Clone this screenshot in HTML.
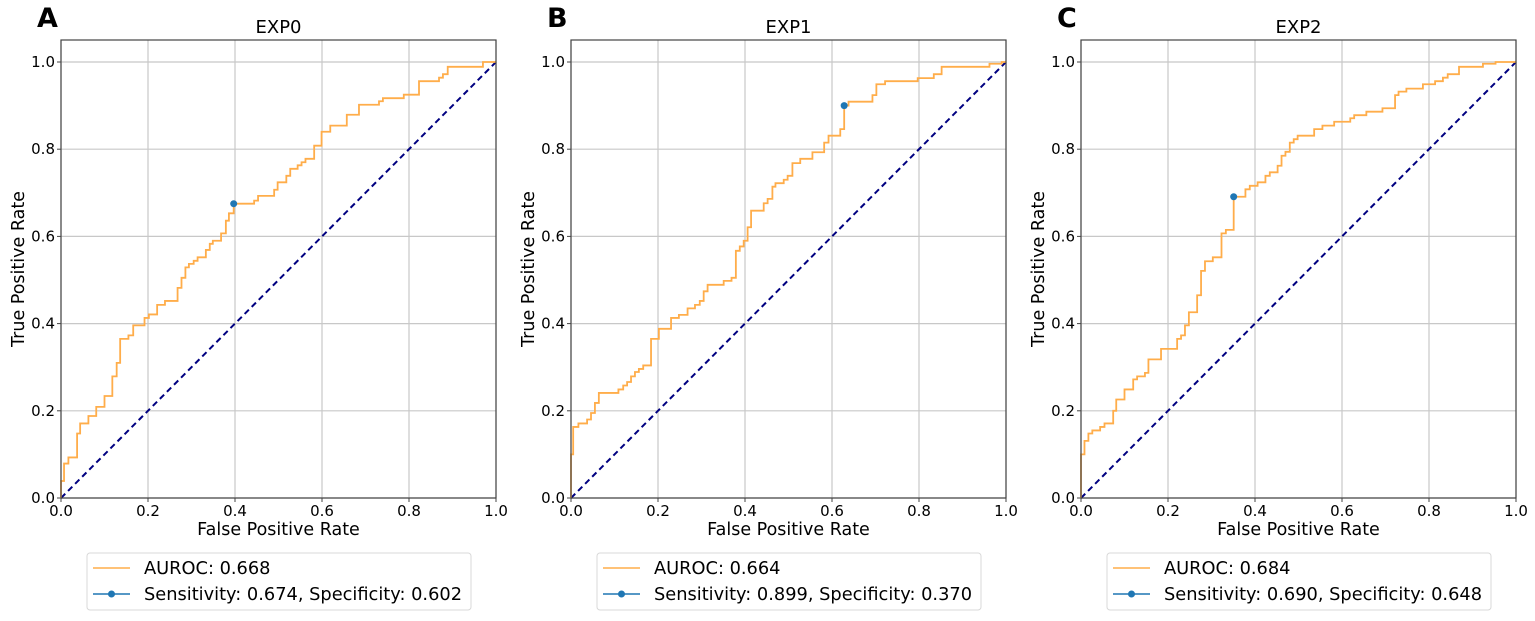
<!DOCTYPE html>
<html><head><meta charset="utf-8"><style>
body{margin:0;background:#fff;}
svg text{font-family:"DejaVu Sans","Liberation Sans",sans-serif;fill:#000;}
</style></head><body>
<svg id="fig" width="1535" height="616" viewBox="0 0 1535 616" xmlns="http://www.w3.org/2000/svg"></svg>
<script>
const titles = ["EXP0","EXP1","EXP2"];
const letters = ["A","B","C"];
const aurocs = ["0.668","0.664","0.684"];
const sensTxt = ["0.674","0.899","0.690"];
const specTxt = ["0.602","0.370","0.648"];
const tickLabels = ["0.0","0.2","0.4","0.6","0.8","1.0"];
const tickValues = [0,0.2,0.4,0.6,0.8,1.0];
const opFpr = [0.397,0.628,0.351];
const opTpr = [0.675,0.900,0.691];
const fpr0 = [0,0,0.007,0.017,0.037,0.044,0.063,0.081,0.1,0.118,0.118,0.128,0.136,0.155,0.166,0.192,0.202,0.221,0.239,0.268,0.277,0.286,0.294,0.305,0.314,0.333,0.342,0.349,0.368,0.379,0.386,0.397,0.444,0.453,0.49,0.498,0.518,0.527,0.544,0.553,0.562,0.582,0.599,0.619,0.657,0.685,0.731,0.74,0.788,0.823,0.869,0.878,0.889,0.97,1.0];
const tpr0 = [0,0.039,0.079,0.093,0.148,0.171,0.188,0.209,0.234,0.241,0.279,0.31,0.365,0.373,0.396,0.413,0.421,0.443,0.452,0.482,0.505,0.529,0.537,0.544,0.552,0.569,0.583,0.59,0.607,0.636,0.653,0.675,0.682,0.693,0.707,0.724,0.739,0.755,0.763,0.77,0.778,0.808,0.84,0.854,0.879,0.902,0.91,0.917,0.925,0.956,0.964,0.972,0.989,1.0,1.0];
const fpr1 = [0,0,0.005,0.017,0.037,0.046,0.055,0.064,0.109,0.12,0.129,0.138,0.147,0.156,0.166,0.184,0.202,0.23,0.248,0.268,0.285,0.296,0.305,0.314,0.351,0.369,0.379,0.388,0.397,0.406,0.414,0.443,0.452,0.463,0.47,0.489,0.498,0.509,0.527,0.555,0.582,0.592,0.619,0.628,0.638,0.693,0.702,0.722,0.797,0.834,0.852,0.962,0.99,1.0];
const tpr1 = [0,0.1,0.163,0.171,0.18,0.195,0.218,0.241,0.249,0.258,0.266,0.279,0.289,0.296,0.304,0.365,0.388,0.413,0.42,0.435,0.443,0.452,0.474,0.489,0.498,0.505,0.567,0.577,0.59,0.621,0.659,0.676,0.686,0.714,0.722,0.73,0.739,0.768,0.778,0.793,0.815,0.831,0.846,0.9,0.909,0.924,0.949,0.956,0.963,0.972,0.989,0.996,1.0,1.0];
const fpr2 = [0,0,0.008,0.017,0.026,0.044,0.054,0.074,0.081,0.1,0.12,0.129,0.147,0.155,0.184,0.221,0.23,0.239,0.248,0.267,0.276,0.285,0.303,0.323,0.333,0.351,0.378,0.388,0.406,0.424,0.434,0.452,0.461,0.47,0.48,0.489,0.498,0.536,0.555,0.582,0.619,0.628,0.656,0.693,0.722,0.73,0.748,0.786,0.814,0.832,0.843,0.869,0.924,0.953,1.0];
const tpr2 = [0,0.1,0.131,0.148,0.155,0.163,0.171,0.2,0.226,0.249,0.272,0.279,0.287,0.318,0.342,0.365,0.373,0.396,0.426,0.465,0.521,0.543,0.552,0.607,0.615,0.691,0.708,0.716,0.724,0.739,0.747,0.762,0.785,0.794,0.815,0.823,0.831,0.846,0.854,0.863,0.871,0.878,0.886,0.894,0.924,0.932,0.939,0.949,0.956,0.964,0.972,0.989,0.996,1.0,1.0];
const fprs=[fpr0,fpr1,fpr2], tprs=[tpr0,tpr1,tpr2];

const NS="http://www.w3.org/2000/svg";
const svg=document.getElementById('fig');
function mk(tag,attrs,parent){const e=document.createElementNS(NS,tag);for(const k in attrs)e.setAttribute(k,attrs[k]);(parent||svg).appendChild(e);return e;}
const W=435,H=436,Y0=498,TOP=40;
for(let p=0;p<3;p++){
  const L=61+p*510;
  const sx=v=>L+v*W, sy=v=>Y0-v*H;
  const g=mk('g',{});
  
  
  tickValues.forEach((v,i)=>{
    const gx=mk('line',{x1:sx(v),x2:sx(v),y1:TOP,y2:Y0,stroke:'#c8c8c8','stroke-width':1.2},g);
    
    
    const gy=mk('line',{x1:L,x2:L+W,y1:sy(v),y2:sy(v),stroke:'#c8c8c8','stroke-width':1.2},g);
    
    
    const tx=mk('text',{x:sx(v),y:516,'font-size':15,'text-anchor':'middle'},g);tx.textContent=tickLabels[i];
    
    
    const ty=mk('text',{x:L-6,y:sy(v)+5,'font-size':15,'text-anchor':'end'},g);ty.textContent=tickLabels[i];
    
    
    mk('line',{x1:L-4,x2:L,y1:sy(v),y2:sy(v),stroke:'#444'},g);
    mk('line',{x1:sx(v),x2:sx(v),y1:Y0,y2:Y0+4,stroke:'#444'},g);
  });
  const d=mk('line',{x1:sx(0),y1:sy(0),x2:sx(1),y2:sy(1),stroke:'#000080','stroke-width':2,'stroke-dasharray':'6,4'},g);
  
  
  const fx=fprs[p],ty2=tprs[p];
  let dd='M'+sx(fx[0])+' '+sy(ty2[0]);
  for(let i=1;i<fx.length;i++){dd+=' L'+sx(fx[i])+' '+sy(ty2[i-1])+' L'+sx(fx[i])+' '+sy(ty2[i]);}
  const c=mk('path',{d:dd,fill:'none',stroke:'#ffad4a','stroke-width':1.8},g);
  
  
  const m=mk('circle',{cx:sx(opFpr[p]),cy:sy(opTpr[p]),r:3.5,fill:'#1f77b4'},g);
  
  
  const fr=mk('rect',{x:L,y:TOP,width:W,height:Y0-TOP,fill:'none',stroke:'#444','stroke-width':1.2},g);
  
  
  const t=mk('text',{x:L+W/2,y:33,'font-size':18,'text-anchor':'middle'},g);t.textContent=titles[p];
  
  
  const le=mk('text',{x:L-24,y:27,'font-size':27,'font-weight':'bold'},g);le.textContent=letters[p];
  
  
  const xl=mk('text',{x:L+W/2,y:535,'font-size':17.5,'text-anchor':'middle'},g);xl.textContent='False Positive Rate';
  
  
  const yl=mk('text',{x:0,y:0,'font-size':17.5,'text-anchor':'middle',transform:'translate('+(L-37)+',269) rotate(-90)'},g);yl.textContent='True Positive Rate';
  
  
  const lg=mk('g',{},g);
  
  
  const bx=L+26;
  mk('rect',{x:bx,y:553,width:384,height:57,rx:3,fill:'#fff',stroke:'#d8d8d8'},lg);
  mk('line',{x1:bx+6,x2:bx+43,y1:568,y2:568,stroke:'#ffad4a','stroke-width':1.5},lg);
  const a=mk('text',{x:bx+57,y:574,'font-size':17.8},lg);a.textContent='AUROC: '+aurocs[p];
  
  
  mk('line',{x1:bx+6,x2:bx+43,y1:594,y2:594,stroke:'#1f77b4','stroke-width':1.5},lg);
  mk('circle',{cx:bx+24.5,cy:594,r:3.5,fill:'#1f77b4'},lg);
  const s=mk('text',{x:bx+57,y:600,'font-size':17.8},lg);s.textContent='Sensitivity: '+sensTxt[p]+', Specificity: '+specTxt[p];
  
  
}
</script>
</body></html>
